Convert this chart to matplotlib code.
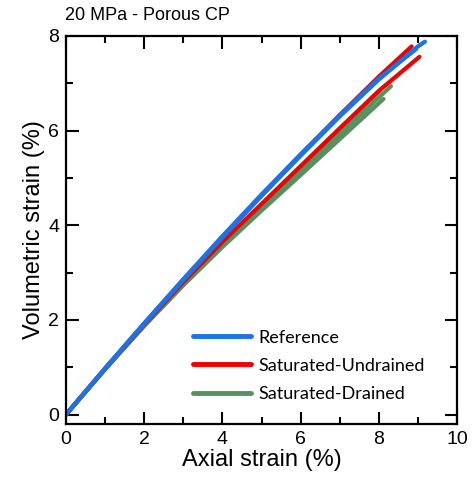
import matplotlib
matplotlib.use("Agg")
import matplotlib.pyplot as plt
from matplotlib.ticker import MultipleLocator

title = "20 MPa - Porous CP"
xlabel = "Axial strain (%)"
ylabel = "Volumetric strain (%)"
labels = ["Reference", "Saturated-Undrained", "Saturated-Drained"]
colors = ["#1a73e8", "#ee0000", "#5a8f5f"]

# Reference specimens
ref1_x = [0, 1, 2, 3, 4, 5, 6, 7, 8, 9, 9.18]
ref1_y = [0, 0.97, 1.92, 2.84, 3.74, 4.62, 5.47, 6.30, 7.08, 7.78, 7.88]
ref2_x = [0, 1, 2, 3, 4, 5, 6, 7, 8, 8.95]
ref2_y = [0, 0.98, 1.93, 2.86, 3.77, 4.65, 5.5, 6.32, 7.1, 7.72]

# Saturated-Undrained specimens
und1_x = [0, 1, 2, 3, 4, 5, 6, 7, 8, 8.84]
und1_y = [0, 0.97, 1.92, 2.85, 3.75, 4.63, 5.49, 6.33, 7.14, 7.78]
und2_x = [0, 1, 2, 3, 4, 5, 6, 7, 8, 9.04]
und2_y = [0, 0.97, 1.9, 2.8, 3.65, 4.45, 5.25, 6.05, 6.84, 7.56]

# Saturated-Drained specimens
dr1_x = [0, 1, 2, 3, 4, 5, 6, 7, 8, 8.31]
dr1_y = [0, 0.96, 1.88, 2.75, 3.57, 4.36, 5.14, 5.92, 6.7, 6.94]
dr2_x = [0, 1, 2, 3, 4, 5, 6, 7, 8.12]
dr2_y = [0, 0.96, 1.87, 2.73, 3.54, 4.31, 5.06, 5.82, 6.67]
dr3_x = [0, 1, 2, 3, 4, 5, 6, 7, 8.03]
dr3_y = [0, 0.96, 1.89, 2.77, 3.6, 4.4, 5.2, 6.0, 6.85]

fig = plt.figure(figsize=(4.72, 4.84), dpi=100)
ax = fig.add_axes([66/472, 1-424/484, 391/472, 388/484])

lw = 3.0
for xs, ys in [(dr1_x, dr1_y), (dr2_x, dr2_y), (dr3_x, dr3_y)]:
    ax.plot(xs, ys, color=colors[2], lw=lw, solid_capstyle="round")
for xs, ys in [(und2_x, und2_y), (und1_x, und1_y)]:
    ax.plot(xs, ys, color=colors[1], lw=lw, solid_capstyle="round")
for xs, ys in [(ref1_x, ref1_y), (ref2_x, ref2_y)]:
    ax.plot(xs, ys, color=colors[0], lw=lw, solid_capstyle="round")

handles = [plt.Line2D([], [], color=c, lw=3.5, solid_capstyle="round") for c in colors]
leg = ax.legend(handles, labels, loc="center left", bbox_to_anchor=(0.325, 0.150),
                frameon=False, handlelength=3.2, handletextpad=0.4,
                labelspacing=0.68, borderpad=0, borderaxespad=0,
                prop={"family": "Lato", "size": 13})

ax.set_xlim(0, 10)
ax.set_ylim(-0.2, 8)
ax.xaxis.set_major_locator(MultipleLocator(2))
ax.xaxis.set_minor_locator(MultipleLocator(1))
ax.yaxis.set_major_locator(MultipleLocator(2))
ax.yaxis.set_minor_locator(MultipleLocator(1))
ax.tick_params(which="both", direction="in", top=True, right=True, width=1.5,
               labelsize=14, pad=5)
ax.tick_params(which="major", length=9)
ax.tick_params(which="minor", length=5)
for s in ax.spines.values():
    s.set_linewidth(1.6)
for lab in ax.get_xticklabels() + ax.get_yticklabels():
    lab.set_family("Liberation Sans")

ax.set_xlabel(xlabel, fontsize=17, family="Liberation Sans", labelpad=1)
ax.set_ylabel(ylabel, fontsize=17, family="Liberation Sans", labelpad=2)
fig.text(65/472, 1-15/484, title, fontsize=13, family="Liberation Sans",
         ha="left", va="center")

fig.savefig("out.png", dpi=100)
